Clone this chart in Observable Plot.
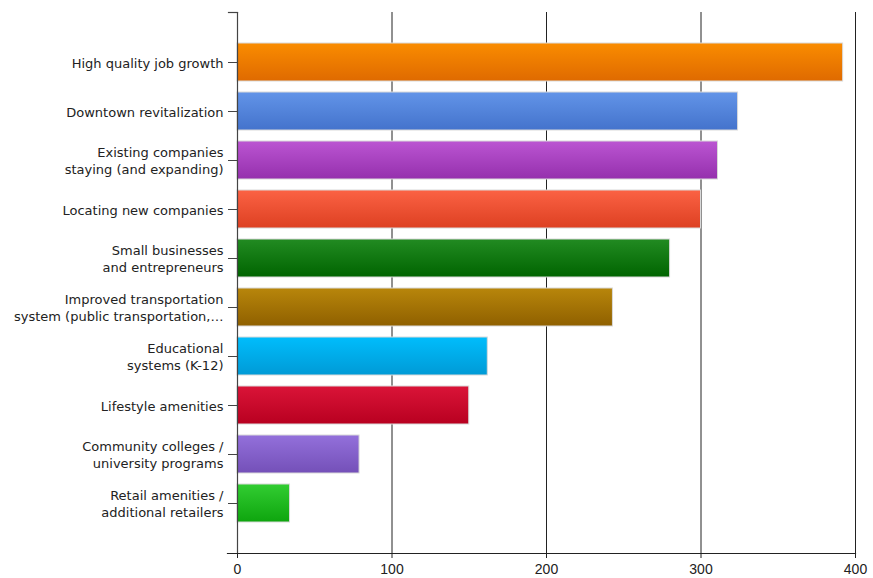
<!DOCTYPE html>
<html>
<head>
<meta charset="utf-8">
<script src="https://cdn.jsdelivr.net/npm/d3@7"></script>
<script src="https://cdn.jsdelivr.net/npm/@observablehq/plot@0.6"></script>
<style>
  html, body { margin: 0; padding: 0; background: #fff; }
  #chart svg { display: block; }
</style>
</head>
<body>
<div id="chart"></div>
<script>
const categories = [
  "High quality job growth",
  "Downtown revitalization",
  "Existing companies\nstaying (and expanding)",
  "Locating new companies",
  "Small businesses\nand entrepreneurs",
  "Improved transportation\nsystem (public transportation,…",
  "Educational\nsystems (K-12)",
  "Lifestyle amenities",
  "Community colleges /\nuniversity programs",
  "Retail amenities /\nadditional retailers"
];
const values = [392, 324, 311, 300, 280, 243, 162, 150, 79, 34];
const xTicks = [0, 100, 200, 300, 400];
const topColors = ["#fa8c00", "#6294e8", "#bb55d2", "#fb6244", "#228b22", "#b8860b", "#00bdfc", "#da1438", "#9370db", "#32cd32"];
const bottomColors = ["#df6a00", "#4473cc", "#9530ad", "#dd4022", "#006400", "#8f6000", "#009ad6", "#b80020", "#7450b8", "#0ea50e"];

const data = categories.map((c, i) => ({category: c, value: values[i], grad: `url(#grad${i})`}));

const W = 873, H = 578;
const mL = 237, mR = 18, mT = 12, mB = 25;

const gradients = () => {
  const defs = d3.create("svg:defs");
  topColors.forEach((t, i) => {
    const g = defs.append("linearGradient").attr("id", "grad" + i)
      .attr("x1", 0).attr("y1", 0).attr("x2", 0).attr("y2", 1);
    g.append("stop").attr("offset", "0%").attr("stop-color", t);
    g.append("stop").attr("offset", "100%").attr("stop-color", bottomColors[i]);
  });
  return defs.node();
};

const chart = Plot.plot({
  width: W,
  height: H,
  marginLeft: mL,
  marginRight: mR,
  marginTop: mT,
  marginBottom: mB,
  style: {fontFamily: "DejaVu Sans", fontSize: "13px", color: "#222", background: "#fff"},
  x: {domain: [0, 400]},
  y: {domain: categories, paddingInner: 0.23, paddingOuter: 0.605, align: 0.5},
  color: {type: "identity"},
  marks: [
    gradients,
    Plot.gridX({ticks: xTicks.slice(1), stroke: "#222", strokeOpacity: 1, strokeWidth: 1}),
    Plot.barX(data, {x: "value", y: "category", fill: "grad", stroke: "#d9d9d9", strokeWidth: 1}),
    Plot.ruleX([0], {stroke: "#444", strokeWidth: 1.2}),
    Plot.frame({anchor: "bottom", insetLeft: -10, stroke: "#222", strokeWidth: 1.2}),
    Plot.frame({anchor: "top", insetLeft: -9, insetRight: W - mL - mR, stroke: "#444", strokeWidth: 1.2}),
    Plot.axisY({tickSize: 9, tickPadding: 5, fontSize: 13, lineHeight: 1.3, stroke: "#444", fill: "#222", label: null}),
    Plot.axisX({ticks: xTicks, tickSize: 5, tickPadding: 6, fontSize: 14, fontFamily: "Liberation Sans", stroke: "#222", fill: "#222", label: null})
  ]
});
document.getElementById("chart").appendChild(chart);
</script>
</body>
</html>
